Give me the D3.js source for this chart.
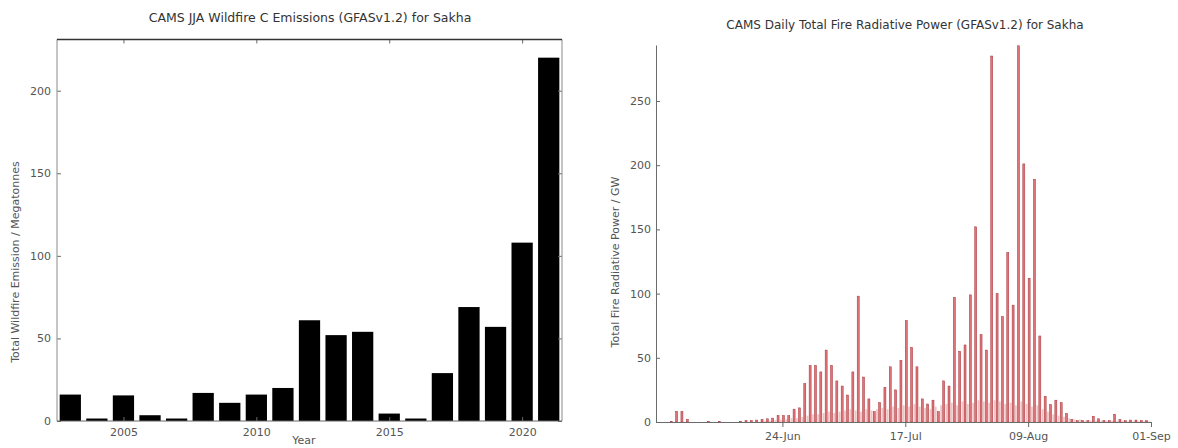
<!DOCTYPE html>
<html>
<head>
<meta charset="utf-8">
<script src="https://cdn.jsdelivr.net/npm/d3@7"></script>
<style>
  html, body { margin: 0; padding: 0; background: #fff; }
  svg { display: block; font-family: "DejaVu Sans", sans-serif; }
</style>
</head>
<body>
<svg id="chart" width="1178" height="448"></svg>
<script>
// ---------------- Data ----------------
const years = [2003, 2004, 2005, 2006, 2007, 2008, 2009, 2010, 2011, 2012,
               2013, 2014, 2015, 2016, 2017, 2018, 2019, 2020, 2021];
const emissions = [16, 1.5, 15.5, 3.5, 1.5, 17, 11, 16, 20, 61,
                   52, 54, 4.5, 1.5, 29, 69, 57, 108, 220];
const emissionTicks = [0, 50, 100, 150, 200];
const yearTicks = [2005, 2010, 2015, 2020];

// Daily total FRP (GW), 1 Jun .. 31 Aug 2021
const frpStart = "2021-06-01";
const frpDaily = [
  // June
  0, 0, 0.5, 8.3, 8.3, 2, 0, 0, 0, 0.3, 0, 0.3, 0, 0, 0, 0.5, 1, 1, 1.5, 2,
  2.5, 3, 5, 5, 5, 10, 11, 30, 44, 44,
  // July
  39, 56, 44, 32, 28, 21, 39, 98, 35, 18, 8, 15, 27, 43, 25, 48, 79, 58, 43, 18,
  14, 17, 8, 32, 28, 97, 55, 60, 99, 152, 68,
  // August
  56, 285, 100, 82, 132, 91, 293, 201, 112, 189, 67, 20, 13.5, 17, 15, 6.5, 2, 1, 1, 1,
  4.5, 2.5, 1, 1, 6, 2, 1, 1.5, 1.5, 1, 1
];
// lighter companion bars drawn between the daily bars
const frpSecondary = [
  // June
  0, 0, 0, 0, 0, 0, 0, 0, 0, 0, 0, 0, 0, 0, 0, 0, 0, 0, 0, 1,
  1, 1.5, 2, 2, 3, 3, 4, 5, 6, 6,
  // July
  7, 8, 7, 8, 9, 10, 9, 8, 10, 9, 10, 11, 10, 12, 11, 13, 12, 14, 12, 11,
  10, 12, 13, 14, 15, 13, 16, 14, 15, 17, 16,
  // August
  15, 17, 16, 14, 15, 13, 16, 14, 12, 13, 10, 8, 6, 5, 4, 3, 2, 2, 1, 1,
  1, 1, 1, 1, 1, 1, 0.5, 0.5, 0.5, 0.5, 0.5
];
const frpTicks = [0, 50, 100, 150, 200, 250];
const dateTicks = ["2021-06-24", "2021-07-17", "2021-08-09", "2021-09-01"];

// ---------------- Setup ----------------
const svg = d3.select("#chart");
const tickColor = "#555";
const axisColor = "#6b6b6b";

// ================= LEFT CHART =================
const L = { left: 57, right: 562, top: 39.5, bottom: 421 };
const xL = d3.scaleLinear().domain([2002.5, 2021.5]).range([L.left, L.right]);
const yL = d3.scaleLinear().domain([0, 231]).range([L.bottom, L.top]);

const gL = svg.append("g");

gL.selectAll("rect.bar")
  .data(years.map((y, i) => ({ year: y, value: emissions[i] })))
  .join("rect")
  .attr("class", "bar")
  .attr("x", d => xL(d.year - 0.4))
  .attr("width", d => xL(d.year + 0.4) - xL(d.year - 0.4))
  .attr("y", d => yL(d.value))
  .attr("height", d => yL(0) - yL(d.value))
  .attr("fill", "#000");

// axes
const axLy = gL.append("g").attr("transform", `translate(${L.left},0)`)
  .call(d3.axisLeft(yL).tickValues(emissionTicks).tickSizeInner(-4).tickSizeOuter(0).tickPadding(6));
const axLx = gL.append("g").attr("transform", `translate(0,${L.bottom})`)
  .call(d3.axisBottom(xL).tickValues(yearTicks).tickFormat(d3.format("d")).tickSizeInner(-4).tickSizeOuter(0).tickPadding(7));
const axLtop = gL.append("g").attr("transform", `translate(0,${L.top})`)
  .call(d3.axisTop(xL).tickValues(yearTicks).tickFormat("").tickSizeInner(-4).tickSizeOuter(0));
const axLright = gL.append("g").attr("transform", `translate(${L.right},0)`)
  .call(d3.axisRight(yL).tickValues(emissionTicks).tickFormat("").tickSizeInner(-4).tickSizeOuter(0));
[axLy, axLx, axLtop, axLright].forEach(a => {
  a.select(".domain").remove();
  a.selectAll(".tick line").attr("stroke", axisColor);
  a.selectAll(".tick text").attr("fill", tickColor).attr("font-size", 11).attr("font-family", "DejaVu Sans");
});

// frame
gL.append("line").attr("x1", L.left).attr("x2", L.left).attr("y1", L.top).attr("y2", L.bottom).attr("stroke", "#8a8a8a");
gL.append("line").attr("x1", L.right).attr("x2", L.right).attr("y1", L.top).attr("y2", L.bottom).attr("stroke", "#8a8a8a");
gL.append("line").attr("x1", L.left).attr("x2", L.right).attr("y1", L.bottom).attr("y2", L.bottom).attr("stroke", "#666");
gL.append("line").attr("x1", L.left).attr("x2", L.right).attr("y1", L.top).attr("y2", L.top).attr("stroke", "#333").attr("stroke-width", 1.3);

gL.append("text").attr("x", 310).attr("y", 22).attr("text-anchor", "middle")
  .attr("font-size", 12.5).attr("fill", "#333")
  .text("CAMS JJA Wildfire C Emissions (GFASv1.2) for Sakha");
gL.append("text").attr("x", 304).attr("y", 444).attr("text-anchor", "middle")
  .attr("font-size", 11).attr("fill", tickColor).text("Year");
gL.append("text").attr("transform", "translate(19,262) rotate(-90)").attr("text-anchor", "middle")
  .attr("font-size", 11).attr("fill", tickColor).text("Total Wildfire Emission / Megatonnes");

// ================= RIGHT CHART =================
const R = { left: 656, right: 1151, top: 45, bottom: 422 };
const parse = d3.utcParse("%Y-%m-%d");
const start = parse(frpStart);
const dayOf = i => d3.utcDay.offset(start, i);
const xR = d3.scaleUtc()
  .domain([new Date(Date.UTC(2021, 4, 31, 8)), new Date(Date.UTC(2021, 8, 1))])
  .range([R.left, R.right]);
const yR = d3.scaleLinear().domain([0, 293.6]).range([R.bottom, R.top]);
const hr = h => d => d3.utcHour.offset(d, h);

const gR = svg.append("g");

// secondary (lighter) bars
gR.selectAll("rect.sec")
  .data(frpSecondary.map((v, i) => ({ date: dayOf(i), value: v })).filter(d => d.value > 0))
  .join("rect")
  .attr("class", "sec")
  .attr("x", d => xR(hr(13)(d.date)))
  .attr("width", d => xR(hr(21)(d.date)) - xR(hr(13)(d.date)))
  .attr("y", d => yR(d.value))
  .attr("height", d => yR(0) - yR(d.value))
  .attr("fill", "#f0c4c4");

// main daily bars
gR.selectAll("rect.main")
  .data(frpDaily.map((v, i) => ({ date: dayOf(i), value: v })).filter(d => d.value > 0))
  .join("rect")
  .attr("class", "main")
  .attr("x", d => xR(d.date))
  .attr("width", d => xR(hr(9)(d.date)) - xR(d.date))
  .attr("y", d => yR(d.value))
  .attr("height", d => yR(0) - yR(d.value))
  .attr("fill", "#de7478")
  .attr("stroke", "#a8343a")
  .attr("stroke-width", 0.5);

const axRy = gR.append("g").attr("transform", `translate(${R.left},0)`)
  .call(d3.axisLeft(yR).tickValues(frpTicks).tickSizeInner(-4).tickSizeOuter(0).tickPadding(5));
const axRx = gR.append("g").attr("transform", `translate(0,${R.bottom})`)
  .call(d3.axisBottom(xR).tickValues(dateTicks.map(parse)).tickFormat(d3.utcFormat("%d-%b")).tickSizeInner(5).tickSizeOuter(0).tickPadding(5));
[axRy, axRx].forEach(a => {
  a.select(".domain").attr("stroke", axisColor);
  a.selectAll(".tick line").attr("stroke", axisColor);
  a.selectAll(".tick text").attr("fill", tickColor).attr("font-size", 11).attr("font-family", "DejaVu Sans");
});

gR.append("text").attr("x", 905).attr("y", 29).attr("text-anchor", "middle")
  .attr("font-size", 12).attr("fill", "#333")
  .text("CAMS Daily Total Fire Radiative Power (GFASv1.2) for Sakha");
gR.append("text").attr("transform", "translate(619,262) rotate(-90)").attr("text-anchor", "middle")
  .attr("font-size", 11).attr("fill", tickColor).text("Total Fire Radiative Power / GW");
</script>
</body>
</html>
